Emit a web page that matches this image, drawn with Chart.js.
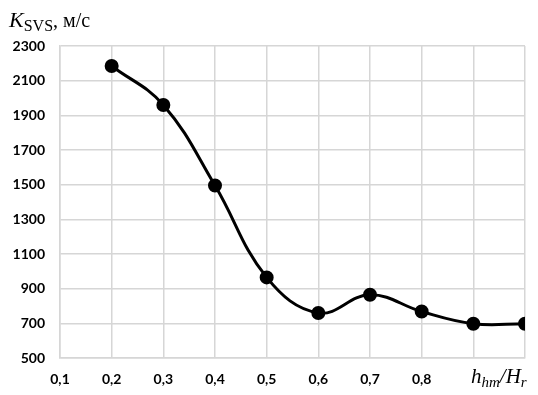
<!DOCTYPE html>
<html>
<head>
<meta charset="utf-8">
<script src="https://cdn.jsdelivr.net/npm/chart.js@4"></script>
<style>
  html, body { margin: 0; padding: 0; background: #fff; }
  #wrap { width: 538px; height: 395px; }
</style>
</head>
<body>
<div id="wrap"><canvas id="kChart" width="538" height="395"></canvas></div>
<script>
// relative height h_hm/H_r
const ratio = [0.2, 0.3, 0.4, 0.5, 0.6, 0.7, 0.8, 0.9, 1.0];
// K_SVS, m/s
const kSvs = [2185, 1960, 1495, 965, 760, 865, 768, 698, 698];
const xTicks = [0.1, 0.2, 0.3, 0.4, 0.5, 0.6, 0.7, 0.8];
const yTicks = [500, 700, 900, 1100, 1300, 1500, 1700, 1900, 2100, 2300];

const gridColor = '#d6d6d6';
const tickFont = { family: 'Lato', size: 14, weight: 'bold' };

// axis titles with subscripts, drawn on the canvas
const axisTitles = {
    id: 'axisTitles',
    afterDraw(chart) {
        const c = chart.ctx;
        c.save();
        c.fillStyle = '#000';
        c.textBaseline = 'alphabetic';
        // y title: K_SVS, м/с
        let x = 9, y = 27;
        c.font = 'italic 22px "Liberation Serif"';
        c.fillText('K', x, y);
        x += c.measureText('K').width;
        c.font = '16px "Liberation Serif"';
        c.fillText('SVS', x, y + 4);
        x += c.measureText('SVS').width;
        c.font = '20px "Liberation Serif"';
        c.fillText(', м/с', x, y);
        // x title: h_hm/H_r
        x = 471; y = 383;
        c.font = 'italic 21px "Liberation Serif"';
        c.fillText('h', x, y);
        x += c.measureText('h').width;
        c.font = 'italic 15px "Liberation Serif"';
        c.fillText('hm', x, y + 4);
        x += c.measureText('hm').width;
        c.font = 'italic 21px "Liberation Serif"';
        c.fillText('/H', x, y);
        x += c.measureText('/H').width;
        c.font = 'italic 15px "Liberation Serif"';
        c.fillText('r', x, y + 4);
        c.restore();
    }
};

new Chart(document.getElementById('kChart'), {
    type: 'line',
    data: {
        datasets: [{
            data: ratio.map((r, i) => ({ x: r, y: kSvs[i] })),
            borderColor: '#000',
            backgroundColor: '#000',
            borderWidth: 3,
            pointRadius: 5.5,
            pointHoverRadius: 5.5,
            tension: 0.4,
            cubicInterpolationMode: 'default'
        }]
    },
    options: {
        responsive: false,
        animation: false,
        layout: { padding: { top: 46, right: 8, left: 0, bottom: 0 } },
        plugins: { legend: { display: false }, tooltip: { enabled: false } },
        scales: {
            x: {
                type: 'linear',
                min: 0.1,
                max: 1.0,
                afterBuildTicks: axis => {
                    axis.ticks = [0.1, 0.2, 0.3, 0.4, 0.5, 0.6, 0.7, 0.8, 0.9, 1.0].map(v => ({ value: v }));
                },
                afterFit: axis => { axis.height = 37; },
                grid: { color: gridColor, lineWidth: 1.5, drawTicks: false },
                border: { color: gridColor, width: 1.5 },
                ticks: {
                    color: '#000',
                    font: tickFont,
                    padding: 13,
                    maxRotation: 0,
                    autoSkip: false,
                    callback: v => {
                        const t = xTicks.find(k => Math.abs(k - v) < 1e-6);
                        return t === undefined ? '' : t.toFixed(1).replace('.', ',');
                    }
                }
            },
            y: {
                min: 500,
                max: 2300,
                afterBuildTicks: axis => { axis.ticks = yTicks.map(v => ({ value: v })); },
                afterFit: axis => { axis.width = 60; },
                grid: { color: gridColor, lineWidth: 1.5, drawTicks: false },
                border: { color: gridColor, width: 1.5 },
                ticks: { color: '#000', font: tickFont, padding: 15, callback: v => String(v) }
            }
        }
    },
    plugins: [axisTitles]
});
</script>
</body>
</html>
